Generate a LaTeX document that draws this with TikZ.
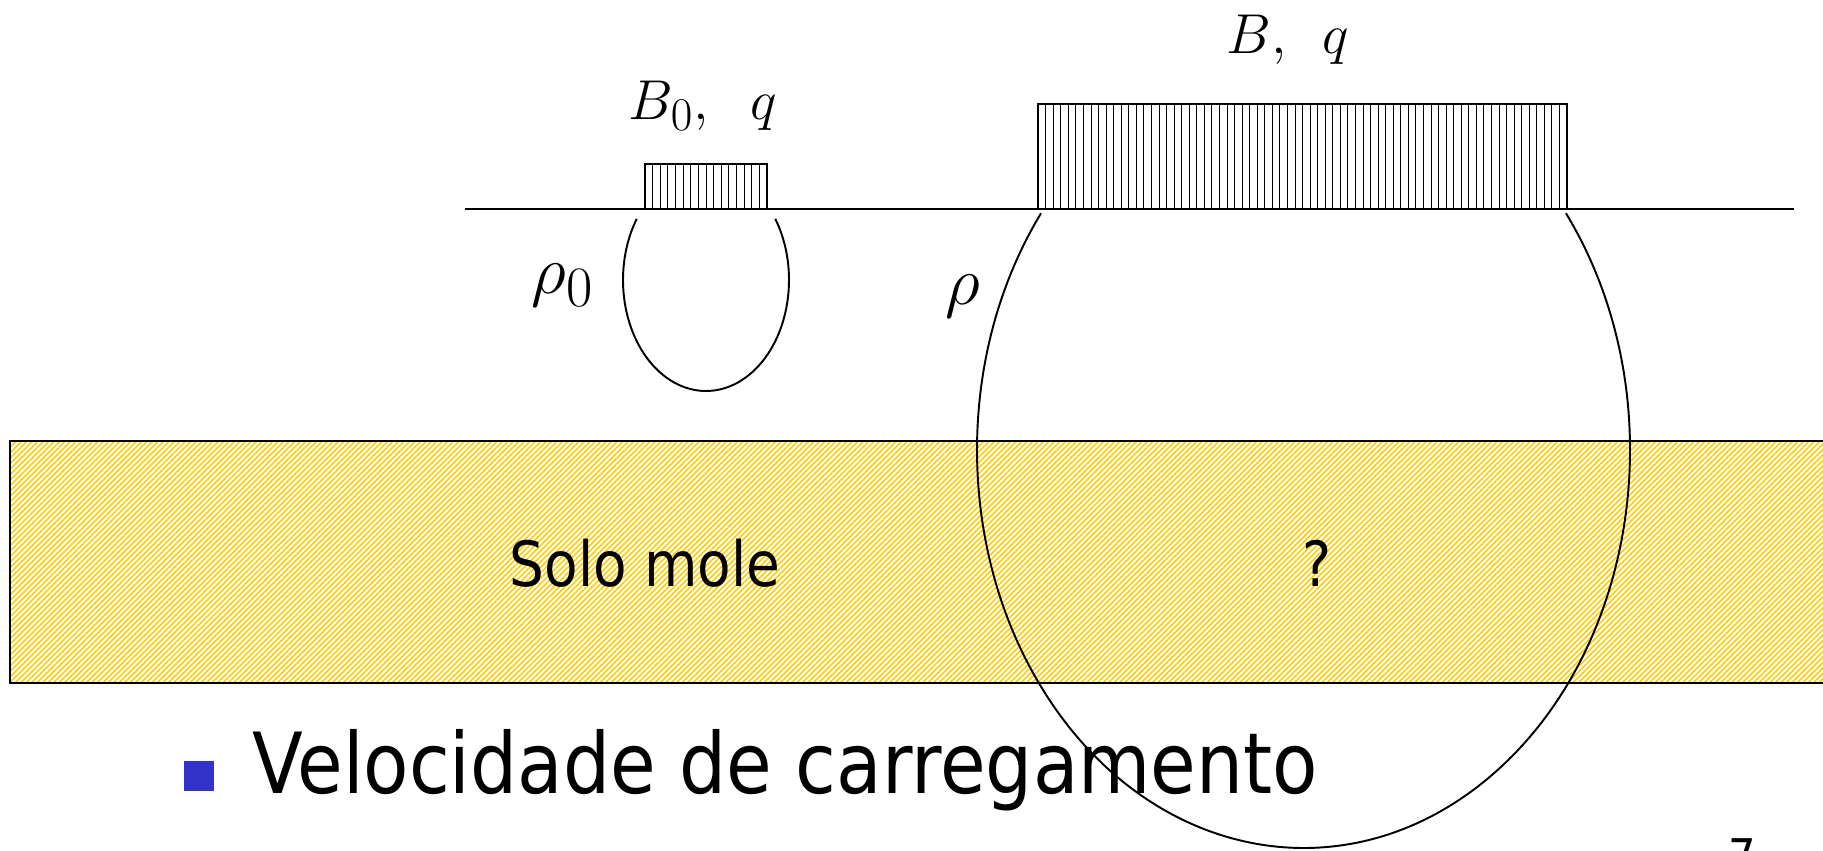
\documentclass[tikz,border=0pt]{standalone}
\usepackage{fontspec}
\newfontfamily\slidefont[FakeStretch=0.88]{DejaVu Sans}
\usetikzlibrary{patterns.meta}
\definecolor{soilyellow}{RGB}{255,204,0}
\definecolor{bulletblue}{RGB}{51,51,204}

\begin{document}
\begin{tikzpicture}[x=0.02cm,y=0.02cm]
    \useasboundingbox (0,0) rectangle (1823,851);

        \coordinate (G1) at (465,642);
        \coordinate (G2) at (1794,642);
        \coordinate (S1) at (645,642);
        \coordinate (S2) at (767,687);
        \coordinate (L1) at (1038,642);
        \coordinate (L2) at (1567,747);
        \coordinate (C0) at (706,571);
        \coordinate (C) at (1303.5,401);

    % Soil layer
    \draw[line width=1.1pt, pattern={Lines[angle=45,distance=2.2pt,line width=0.9pt]}, pattern color=soilyellow] (10,410) rectangle (1850,168);
    \node[anchor=base, inner sep=0] (solo) at (645,264) {\slidefont\fontsize{35.5}{40}\selectfont Solo mole};
    \node[anchor=base, inner sep=0] (ask) at (1317,264) {\slidefont\fontsize{35.5}{40}\selectfont ?};

        \draw[line width=1.1pt] (G1) -- (G2);

    % Footings
        \draw[line width=0.8pt] (S1) rectangle (S2);
        \foreach \i in {1,...,15}
            \draw[line width=0.45pt] ({645+\i*7.625},642) -- ++(0,45);
        \draw[line width=0.8pt] (L1) rectangle (L2);
        \foreach \i in {1,...,69}
            \draw[line width=0.45pt] ({1038+\i*7.557},642) -- ++(0,105);

    % Bulbs
        \draw[line width=1.1pt] ([shift={(33.4:83 and 111)}]C0) arc[start angle=33.4, end angle=-213.4, x radius=83, y radius=111];
        \draw[line width=1.1pt] ([shift={(36.5:326.5 and 398)}]C) arc[start angle=36.5, end angle=-216.5, x radius=326.5, y radius=398];

    % Labels
    \node[anchor=base, inner sep=0, scale=1.286] (Bzq) at (703,731) {\Huge $B_0,\ \;q$};
    \node[anchor=base, inner sep=0, scale=1.286] (Bq) at (1288,797) {\Huge $B,\ \,q$};
    \node[inner sep=0, scale=1.567] (rhoz) at (563,566) {\Huge $\rho_0$};
    \node[inner sep=0, scale=1.567] (rho) at (963,555) {\Huge $\rho$};

    % Bullet
    \fill[bulletblue] (184,60) rectangle (214,90);
    \node[anchor=base west, inner sep=0] (vel) at (252,57) {\slidefont\fontsize{48}{54}\selectfont Velocidade de carregamento};
    \node[anchor=north west, inner sep=0] (page) at (1728,13) {\slidefont\fontsize{28}{30}\selectfont 7};
    \end{tikzpicture}
\end{document}
